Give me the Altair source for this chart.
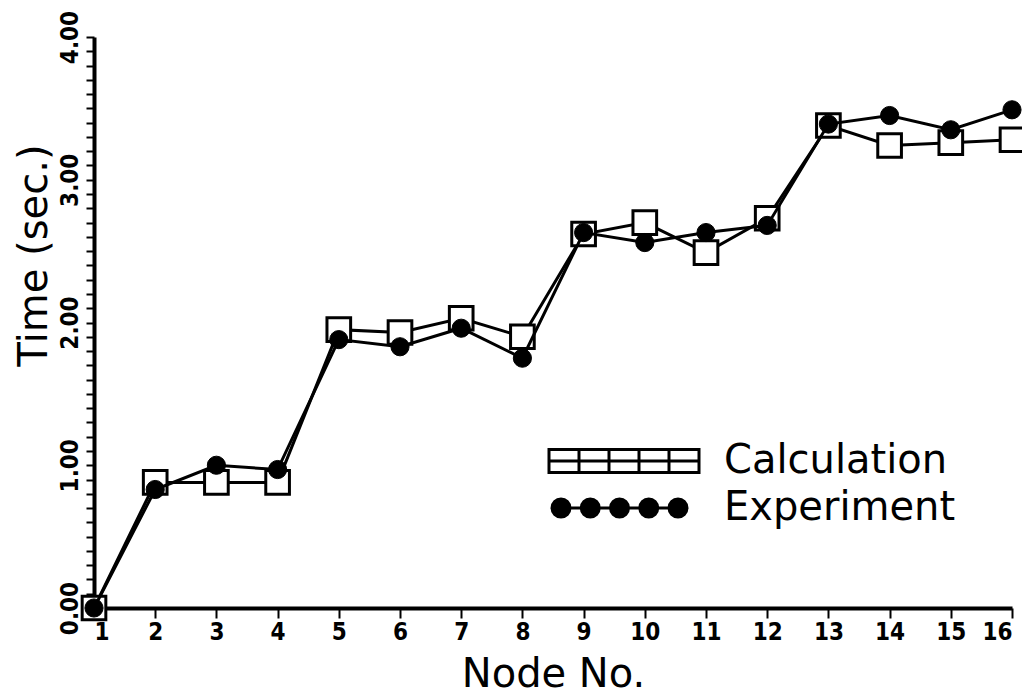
import altair as alt
import pandas as pd

nodes = list(range(1, 17))
calculation = [0.00, 0.88, 0.88, 0.88, 1.95, 1.93, 2.03, 1.90, 2.62, 2.70, 2.49, 2.73, 3.38, 3.24, 3.26, 3.28]
experiment = [0.00, 0.83, 1.00, 0.97, 1.88, 1.83, 1.96, 1.75, 2.63, 2.56, 2.63, 2.68, 3.39, 3.45, 3.35, 3.49]
series_names = ["Calculation", "Experiment"]
x_ticks = list(range(1, 17))
y_ticks = [round(i * 0.1, 1) for i in range(0, 41)]

df = pd.DataFrame({
    "node": nodes * 2,
    "time": calculation + experiment,
    "series": [series_names[0]] * len(nodes) + [series_names[1]] * len(nodes),
})

FONT = "DejaVu Sans"
TICKFONT = "DejaVu Sans Condensed, Liberation Sans Narrow, DejaVu Sans"

# legend symbols: five boxes / five dots joined by a line (unit = sqrt(size)/2 px)
sq_path = ("M-1,-0.77H1V0.77H-1Z M1,-0.77H3V0.77H1Z M3,-0.77H5V0.77H3Z "
           "M5,-0.77H7V0.77H5Z M7,-0.77H9V0.77H7Z M-1,0H9")
def circ(cx, r=0.6):
    return f"M{cx - r:.3f},0A{r},{r} 0 1,0 {cx + r:.3f},0A{r},{r} 0 1,0 {cx - r:.3f},0Z "
circ_centers = [-0.2, 1.75, 3.7, 5.65, 7.6]
circ_path = "M-0.2,0H7.6 " + "".join(circ(c) for c in circ_centers)

x_enc = alt.X("node:Q",
              scale=alt.Scale(domain=[1, 16], nice=False, zero=False),
              axis=alt.Axis(values=x_ticks, tickCount=20, format="d", title="Node No.",
                            grid=False, domainWidth=4, domainColor="black",
                            tickColor="black", tickWidth=2, tickSize=10,
                            labelFont=TICKFONT, labelFontSize=24, labelFontWeight="bold",
                            labelColor="black", labelPadding=2,
                            titleFont=FONT, titleFontSize=40, titleFontWeight="normal",
                            titleColor="black", titleBaseline="alphabetic", titleY=78))
y_enc = alt.Y("time:Q",
              scale=alt.Scale(domain=[0, 4], nice=False),
              axis=alt.Axis(values=y_ticks, tickCount=100, title="Time (sec.)",
                            labelExpr="datum.value % 1 == 0 ? format(datum.value, '.2f') : ''",
                            grid=False, domainWidth=4, domainColor="black",
                            tickColor="black", tickWidth=2, tickSize=8,
                            labelAngle=270, labelAlign="center", labelBaseline="bottom",
                            labelFont=TICKFONT, labelFontSize=24, labelFontWeight="bold",
                            labelColor="black", labelPadding=4, labelOverlap=False,
                            labelFlush=False,
                            titleFont=FONT, titleFontSize=40, titleFontWeight="normal",
                            titleColor="black", titleBaseline="alphabetic",
                            titleX=-48, titleY=218))

base = alt.Chart(df)

calc_line = base.mark_line(color="black", strokeWidth=3).encode(
    x=x_enc, y=y_enc).transform_filter(alt.datum.series == series_names[0])
calc_pts = base.mark_point(shape="square", size=560, filled=True, fill="white",
                           stroke="black", strokeWidth=3, opacity=1).encode(
    x="node:Q", y="time:Q").transform_filter(alt.datum.series == series_names[0])
exp_line = base.mark_line(color="black", strokeWidth=3).encode(
    x="node:Q", y="time:Q").transform_filter(alt.datum.series == series_names[1])
exp_pts = base.mark_point(shape="circle", size=330, filled=True, fill="black",
                          stroke="black", strokeWidth=1, opacity=1).encode(
    x="node:Q", y="time:Q").transform_filter(alt.datum.series == series_names[1])

leg = alt.Legend(title=None, orient="none", legendX=450, legendY=404,
                 symbolSize=900, symbolStrokeWidth=3, symbolOpacity=1,
                 labelFont=FONT, labelFontSize=40, labelColor="black",
                 labelOffset=140, rowPadding=7, labelLimit=400)

legend_layer = base.mark_point(filled=False, size=900, strokeWidth=3).encode(
    x="node:Q", y="time:Q",
    shape=alt.Shape("series:N",
                    scale=alt.Scale(domain=series_names, range=[sq_path, circ_path]),
                    legend=leg),
    fill=alt.Fill("series:N",
                  scale=alt.Scale(domain=series_names, range=["white", "black"]),
                  legend=leg),
    stroke=alt.Stroke("series:N",
                      scale=alt.Scale(domain=series_names, range=["black", "black"]),
                      legend=leg),
).transform_filter("false")

chart = alt.layer(calc_line, calc_pts, exp_line, exp_pts, legend_layer).properties(
    width=918, height=571,
    autosize=alt.AutoSizeParams(type="none"),
    padding={"left": 86, "top": 29, "right": 10, "bottom": 90},
    background="white",
).configure_view(stroke=None)

chart.save("out.html", embed_options={"renderer": "svg", "actions": False})
